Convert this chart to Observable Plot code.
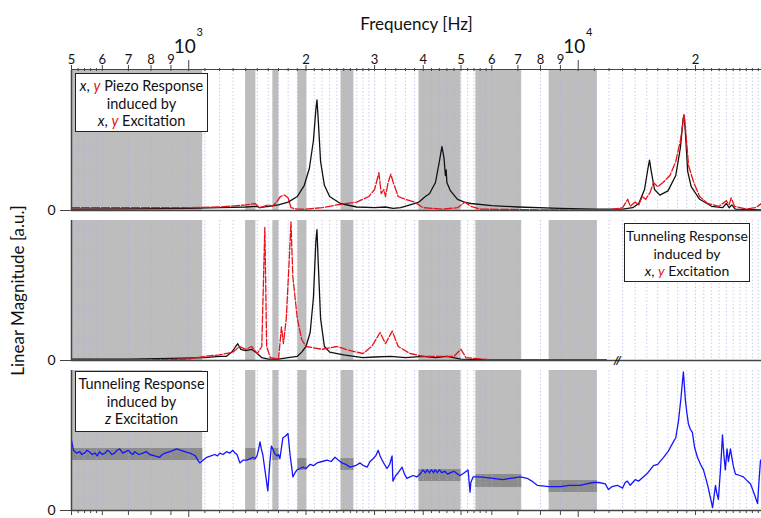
<!DOCTYPE html>
<html>
<head>
<meta charset="utf-8">
<script src="https://cdn.jsdelivr.net/npm/d3@7"></script>
<script src="https://cdn.jsdelivr.net/npm/@observablehq/plot@0.6"></script>
<style>
  body { margin: 0; background: #fff; font-family: Lato, "Open Sans", sans-serif; }
  #wrap { position: relative; width: 761px; height: 518px; overflow: hidden; background: #fff; }
  #wrap > div.p { position: absolute; left: 0; }
  .box { position: absolute; background: #fff; border: 1.5px solid #222; box-sizing: border-box;
         text-align: center; font-size: 14.5px; line-height: 17.5px; color: #111; padding-top: 3px; white-space: nowrap; }
  .box i { font-style: italic; }
  .r { color: #e8121a; }
</style>
</head>
<body>
<div id="wrap">
  <div class="p" id="p1" style="top:0px"></div>
  <div class="p" id="p2" style="top:212px"></div>
  <div class="p" id="p3" style="top:362px"></div>
  <div class="box" style="left:75px; top:73px; width:133px; height:59px;"><i>x</i>, <i class="r">y</i> Piezo Response<br>induced by<br><i>x</i>, <i class="r">y</i> Excitation</div>
  <div class="box" style="left:624px; top:223px; width:126px; height:59px; font-size:14px;">Tunneling Response<br>induced by<br><i>x</i>, <i class="r">y</i> Excitation</div>
  <div class="box" style="left:75px; top:371px; width:133px; height:61px;">Tunneling Response<br>induced by<br><i>z</i> Excitation</div>
</div>
<script>
// ---------- axis ticks (Hz) ----------
const majorTicks = [500, 600, 700, 800, 900, 2000, 3000, 4000, 5000, 6000, 7000, 8000, 9000, 20000];
const majorLabels = ["5", "6", "7", "8", "9", "2", "3", "4", "5", "6", "7", "8", "9", "2"];
const decadeTicks = [1000, 10000];
const decadeLabels = ["3", "4"];
const minorTicks = [520, 540, 560, 580,
  1100, 1200, 1300, 1400, 1500, 1600, 1700, 1800, 1900,
  2100, 2200, 2300, 2400, 2500, 2600, 2700, 2800, 2900,
  3200, 3400, 3600, 3800, 4200, 4400, 4600, 4800, 5200, 5400, 5600, 5800,
  11000, 12000, 13000, 14000, 15000, 16000, 17000, 18000, 19000,
  21000, 22000, 23000, 24000, 25000, 26000, 27000, 28000, 29000];

// ---------- shaded frequency bands (Hz) ----------
const bandStart = [500, 1400, 1644, 1906, 2460, 3900, 5460, 8420];
const bandEnd   = [1086, 1487, 1704, 2010, 2655, 5000, 7160, 11200];
// darker level bands in the z-excitation panel (a.u.)
const levelLow  = [0.357, 0.357, 0.357, 0.286, 0.286, 0.207, 0.164, 0.129];
const levelHigh = [0.443, 0.443, 0.443, 0.371, 0.371, 0.293, 0.257, 0.214];

// ---------- panel 1: piezo response, x (black) and y (red) ----------
const piezoX = [[500,0.01],[700,0.012],[1000,0.015],[1200,0.02],[1400,0.025],[1500,0.03],[1520,0.02],[1600,0.03],[1700,0.04],[1800,0.06],[1900,0.1],[1980,0.18],[2040,0.3],[2090,0.5],[2120,0.72],[2134,0.79],[2150,0.65],[2180,0.35],[2230,0.18],[2300,0.1],[2450,0.05],[2700,0.025],[3000,0.02],[3200,0.025],[3350,0.015],[3500,0.02],[3700,0.04],[3900,0.06],[4050,0.1],[4150,0.12],[4300,0.2],[4400,0.35],[4467,0.457],[4520,0.38],[4560,0.25],[4580,0.29],[4600,0.2],[4700,0.14],[4900,0.08],[5100,0.06],[5300,0.05],[6000,0.035],[7000,0.025],[9000,0.015],[11000,0.01],[13000,0.01],[13800,0.02],[14300,0.05],[14800,0.15],[15100,0.3],[15240,0.36],[15400,0.28],[15700,0.15],[16200,0.11],[17000,0.14],[17800,0.25],[18300,0.45],[18600,0.66],[18700,0.68],[18850,0.55],[19100,0.28],[19500,0.17],[20500,0.08],[22000,0.03],[23500,0.02],[24000,0.05],[24400,0.02],[24800,0.04],[25300,0.01],[29550,0.005]];
const piezoY = [[500,0.02],[1000,0.02],[1200,0.025],[1400,0.04],[1480,0.05],[1520,0.02],[1560,0.03],[1600,0.04],[1640,0.03],[1680,0.06],[1720,0.1],[1760,0.11],[1800,0.09],[1830,0.02],[1900,0.01],[2000,0.01],[2200,0.02],[2400,0.04],[2700,0.06],[2900,0.1],[3000,0.15],[3078,0.27],[3120,0.12],[3170,0.15],[3200,0.1],[3250,0.2],[3303,0.26],[3350,0.2],[3450,0.1],[3600,0.08],[3800,0.06],[4000,0.02],[4500,0.01],[4900,0.02],[5120,0.06],[5300,0.03],[5600,0.01],[8000,0.005],[12000,0.005],[13000,0.02],[13400,0.08],[13600,0.03],[14000,0.06],[14300,0.04],[14600,0.1],[14900,0.08],[15300,0.13],[15600,0.2],[16000,0.17],[16500,0.2],[17200,0.25],[17800,0.35],[18300,0.5],[18700,0.69],[18900,0.55],[19200,0.32],[19500,0.26],[19800,0.2],[20500,0.1],[21500,0.05],[23000,0.03],[24000,0.07],[24400,0.04],[24700,0.09],[25200,0.03],[27000,0.01],[28500,0.02],[29550,0.05]];

// ---------- panel 2: tunneling response, x (black) and y (red) excitation ----------
const tunnelX = [[500,0.01],[700,0.01],[900,0.015],[1100,0.02],[1200,0.03],[1250,0.03],[1290,0.06],[1320,0.1],[1336,0.12],[1360,0.08],[1400,0.07],[1450,0.08],[1500,0.05],[1540,0.02],[1600,0.01],[1700,0.01],[1800,0.02],[1900,0.03],[1950,0.06],[2000,0.1],[2050,0.2],[2090,0.45],[2120,0.85],[2134,0.935],[2150,0.7],[2180,0.3],[2230,0.1],[2300,0.06],[2500,0.04],[2800,0.02],[3000,0.025],[3300,0.03],[3600,0.02],[4000,0.03],[4300,0.02],[4600,0.03],[5000,0.01],[6000,0.005],[11800,0.005]];
const tunnelY = [[500,0.005],[800,0.005],[1000,0.01],[1100,0.03],[1200,0.04],[1300,0.06],[1350,0.1],[1400,0.08],[1450,0.1],[1500,0.05],[1540,0.1],[1568,0.95],[1585,0.1],[1620,0.02],[1700,0.01],[1730,0.24],[1750,0.12],[1780,0.3],[1810,0.7],[1830,0.99],[1850,0.6],[1900,0.3],[1950,0.15],[2000,0.1],[2200,0.08],[2400,0.1],[2600,0.07],[2800,0.05],[2950,0.1],[3100,0.2],[3200,0.12],[3330,0.21],[3450,0.1],[3700,0.05],[4000,0.03],[4800,0.03],[5000,0.08],[5150,0.02],[6000,0.005],[11800,0.005]];

// ---------- panel 3: tunneling response, z excitation ----------
const tunnelZ = [[500,0.50],[506,0.43],[515,0.41],[525,0.42],[532,0.40],[540,0.41],[548,0.43],[556,0.42],[565,0.40],[575,0.41],[582,0.39],[590,0.42],[600,0.40],[610,0.41],[618,0.43],[626,0.42],[635,0.40],[645,0.41],[655,0.43],[665,0.44],[677,0.41],[689,0.42],[700,0.43],[710,0.41],[718,0.40],[727,0.42],[745,0.40],[762,0.41],[778,0.42],[794,0.40],[818,0.39],[842,0.38],[855,0.40],[870,0.41],[894,0.42],[912,0.43],[931,0.44],[955,0.43],[977,0.42],[1006,0.41],[1025,0.40],[1040,0.39],[1055,0.36],[1067,0.34],[1090,0.36],[1112,0.38],[1140,0.39],[1167,0.40],[1185,0.39],[1202,0.41],[1225,0.40],[1250,0.42],[1275,0.41],[1298,0.43],[1315,0.41],[1330,0.40],[1353,0.34],[1380,0.36],[1410,0.36],[1440,0.37],[1460,0.38],[1480,0.37],[1497,0.39],[1512,0.44],[1524,0.49],[1536,0.44],[1549,0.40],[1567,0.30],[1596,0.14],[1615,0.34],[1630,0.46],[1644,0.44],[1660,0.41],[1683,0.39],[1700,0.40],[1714,0.37],[1745,0.52],[1770,0.53],[1798,0.55],[1820,0.40],[1851,0.24],[1875,0.27],[1897,0.29],[1930,0.30],[1964,0.31],[2000,0.30],[2050,0.33],[2090,0.32],[2134,0.34],[2200,0.35],[2264,0.36],[2320,0.35],[2374,0.38],[2420,0.36],[2474,0.34],[2530,0.33],[2594,0.31],[2680,0.32],[2754,0.34],[2810,0.32],[2871,0.31],[2920,0.35],[2973,0.37],[3020,0.39],[3064,0.43],[3100,0.39],[3136,0.36],[3180,0.33],[3229,0.30],[3280,0.33],[3327,0.39],[3343,0.21],[3400,0.25],[3450,0.27],[3490,0.29],[3529,0.31],[3580,0.26],[3633,0.23],[3700,0.24],[3767,0.25],[3850,0.24],[3926,0.26],[3990,0.29],[4050,0.27],[4093,0.29],[4150,0.27],[4200,0.29],[4250,0.27],[4290,0.29],[4350,0.27],[4400,0.29],[4460,0.27],[4550,0.28],[4620,0.26],[4700,0.27],[4800,0.28],[4900,0.26],[4975,0.25],[5100,0.27],[5214,0.29],[5275,0.13],[5300,0.20],[5370,0.24],[5600,0.24],[6050,0.23],[6400,0.22],[6686,0.23],[7100,0.24],[7395,0.23],[7600,0.21],[7849,0.18],[8400,0.17],[8995,0.17],[9500,0.18],[10120,0.18],[10500,0.19],[10930,0.20],[11300,0.20],[11740,0.19],[11950,0.15],[12200,0.17],[12600,0.18],[13000,0.16],[13200,0.20],[13370,0.21],[13600,0.18],[14000,0.22],[14300,0.21],[14690,0.24],[15100,0.27],[15600,0.32],[16000,0.33],[16560,0.38],[17000,0.42],[17550,0.49],[17800,0.52],[18090,0.64],[18350,0.80],[18620,0.99],[18840,0.79],[19000,0.70],[19180,0.62],[19400,0.58],[19630,0.56],[19900,0.45],[20230,0.38],[20600,0.33],[20970,0.29],[21500,0.18],[22130,0.02],[22510,0.18],[22700,0.12],[22900,0.08],[23200,0.30],[23460,0.54],[23650,0.40],[23860,0.29],[24100,0.44],[24300,0.35],[24590,0.44],[25000,0.32],[25330,0.26],[26000,0.25],[26560,0.24],[27200,0.21],[27700,0.19],[28300,0.12],[28870,0.05],[29100,0.20],[29380,0.36]];

const xDomain = [500, 29550];
const toObj = a => a.map(([f, v]) => ({f, v}));
const bands = bandStart.map((s, i) => ({s, e: bandEnd[i], lo: levelLow[i], hi: levelHigh[i]}));
const gridTicks = [...majorTicks, ...decadeTicks, ...minorTicks];
const majors = majorTicks.map((f, i) => ({f, label: majorLabels[i]}));
const decades = decadeTicks.map((f, i) => ({f, label: decadeLabels[i]}));

const BLACK = "#111", RED = "#e8121a", BLUE = "#1414ff", AX = "#444";
const FONT = "Lato, 'Open Sans', sans-serif";

function base(extra, lines, o) {
  return Plot.plot({
    width: 761, height: o.height,
    marginLeft: 71, marginRight: 0, marginTop: o.mt, marginBottom: o.mb,
    x: {type: "log", domain: xDomain, axis: null},
    y: {domain: [0, 1], axis: null},
    style: {fontFamily: FONT, fontSize: "13px", background: "transparent", overflow: "visible", color: "#111"},
    marks: [
      Plot.rect(bands, {x1: "s", x2: "e", y1: 0, y2: 1, fill: "#bdbdbd"}),
      ...(o.levels ? [Plot.rect(bands, {x1: "s", x2: "e", y1: "lo", y2: "hi", fill: "#8c8c8c"})] : []),
      Plot.ruleX(gridTicks, {stroke: "#a9aee6", strokeDasharray: "1.5,2", strokeWidth: 0.8, strokeOpacity: 0.8}),
      ...lines,
      Plot.ruleX([xDomain[0]], {stroke: AX, strokeWidth: 1.5}),
      Plot.ruleY([0], {stroke: AX, strokeWidth: 1.5}),
      Plot.axisY({ticks: [0], tickSize: 11, tickPadding: 5, tickFormat: () => "0", label: null, fontSize: 14, stroke: AX}),
      ...extra
    ]
  });
}

// Panel 1 with top frequency axis
const p1 = base([
  Plot.ruleY([1], {stroke: AX, strokeWidth: 1.2, dy: -1}),
  Plot.axisX(minorTicks, {anchor: "top", tickSize: 3, tickFormat: () => "", label: null, stroke: AX}),
  Plot.axisX(majorTicks, {anchor: "top", tickSize: 6, tickFormat: () => "", label: null, stroke: AX}),
  Plot.axisX(decadeTicks, {anchor: "top", tickSize: 11, tickFormat: () => "", label: null, stroke: AX}),
  Plot.text(majors, {x: "f", text: "label", frameAnchor: "top", dy: -16, fontSize: 13}),
  Plot.text(decades, {x: "f", text: () => "10", frameAnchor: "top", dy: -31, dx: -4, fontSize: 19}),
  Plot.text(decades, {x: "f", text: "label", frameAnchor: "top", dy: -42, dx: 11, fontSize: 11}),
  Plot.text(["Frequency [Hz]"], {frameAnchor: "top", dy: -53, fontSize: 17})
], [
  Plot.line(toObj(piezoX), {x: "f", y: "v", stroke: BLACK, strokeWidth: 1.3}),
  Plot.line(toObj(piezoY), {x: "f", y: "v", stroke: RED, strokeWidth: 1.3, strokeDasharray: "8,2"})
], {height: 212, mt: 70, mb: 2});

const p2 = base([
  Plot.text(["//"], {x: [12600], y: [0], text: d => d, fontSize: 12, fontStyle: "italic", fontWeight: "bold"}),
  Plot.text(["Linear Magnitude [a.u.]"], {frameAnchor: "left", textAnchor: "middle", dx: -53, rotate: -90, fontSize: 17})
], [
  Plot.line(toObj(tunnelX), {x: "f", y: "v", stroke: BLACK, strokeWidth: 1.3}),
  Plot.line(toObj(tunnelY), {x: "f", y: "v", stroke: RED, strokeWidth: 1.3, strokeDasharray: "7,2"})
], {height: 150, mt: 8, mb: 2});

const p3 = base([
  Plot.axisX(minorTicks, {anchor: "bottom", tickSize: 3, tickFormat: () => "", label: null, stroke: AX}),
  Plot.axisX(majorTicks, {anchor: "bottom", tickSize: 5, tickFormat: () => "", label: null, stroke: AX}),
  Plot.axisX(decadeTicks, {anchor: "bottom", tickSize: 7, tickFormat: () => "", label: null, stroke: AX})
], [
  Plot.line(toObj(tunnelZ), {x: "f", y: "v", stroke: BLUE, strokeWidth: 1.3})
], {height: 156, mt: 8, mb: 8, levels: true});

document.getElementById("p1").append(p1);
document.getElementById("p2").append(p2);
document.getElementById("p3").append(p3);
</script>
</body>
</html>
